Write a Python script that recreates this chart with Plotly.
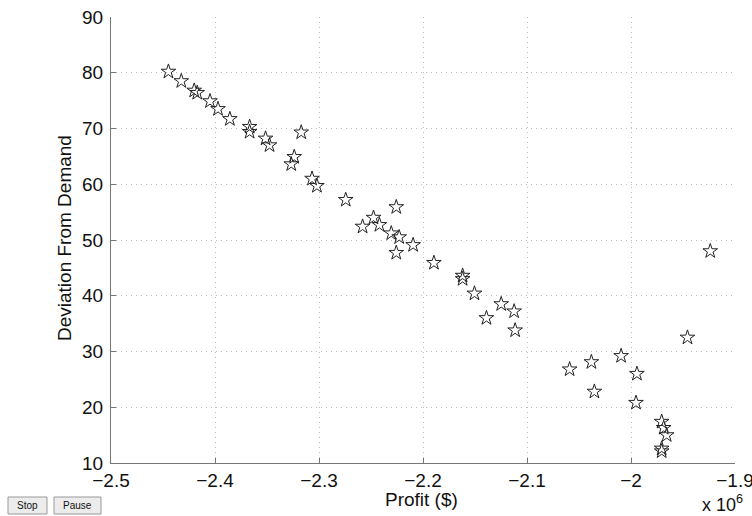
import plotly.graph_objects as go

# Profit in millions of dollars (axis shows x 10^6)
profit = [-2.4448, -2.4324, -2.4200, -2.4171, -2.4048, -2.3971, -2.3857, -2.3667,
          -2.3667, -2.3514, -2.3476, -2.3171, -2.3238, -2.3267, -2.3067, -2.3020,
          -2.2743, -2.2581, -2.2476, -2.2419, -2.2257, -2.2305, -2.2229, -2.2257,
          -2.2095, -2.1895, -2.1619, -2.1619, -2.1505, -2.1390, -2.1248, -2.1124,
          -2.1114, -2.0590, -2.0381, -2.0352, -2.0095, -1.9943, -1.9952, -1.9705,
          -1.9686, -1.9657, -1.9705, -1.9705, -1.9457, -1.9238]
deviation = [80.2, 78.5, 76.8, 76.4, 74.9, 73.5, 71.7, 70.3,
             69.4, 68.2, 67.0, 69.3, 64.9, 63.6, 61.0, 59.7,
             57.2, 52.4, 54.0, 52.7, 55.9, 51.2, 50.5, 47.7,
             49.1, 45.9, 43.6, 43.0, 40.4, 36.0, 38.5, 37.2,
             33.8, 26.8, 28.1, 22.8, 29.2, 26.0, 20.8, 17.4,
             16.3, 15.0, 12.6, 12.1, 32.5, 48.0]

x_ticks = [-2.5, -2.4, -2.3, -2.2, -2.1, -2.0, -1.9]
x_ticktext = ["\u22122.5", "\u22122.4", "\u22122.3", "\u22122.2", "\u22122.1", "\u22122", "\u22121.9"]
y_ticks = [10, 20, 30, 40, 50, 60, 70, 80, 90]

FONT = "Liberation Sans, Arial, Helvetica, sans-serif"

FW, FH = 752, 516
# plot area in window pixels
L, R, T, B = 111, 735, 17, 463
W, H = R - L, B - T


def px(xp):
    return (xp - L) / W


def py(yp):
    return (B - yp) / H


fig = go.Figure(go.Scatter(
    x=profit, y=deviation, mode="markers",
    marker=dict(symbol="star-open", size=11, color="#222",
                line=dict(width=1, color="#222")),
    showlegend=False,
))

axis_common = dict(
    showline=True, linecolor="#777", linewidth=1, mirror=False,
    ticks="inside", ticklen=5, tickcolor="#777",
    showgrid=True, gridcolor="#bdbdbd", griddash="1px,4px", gridwidth=1,
    zeroline=False, automargin=False, ticklabeloverflow="allow",
    tickfont=dict(family=FONT, size=19, color="#111"),
)

fig.update_layout(
    width=FW, height=FH,
    margin=dict(l=L, r=FW - R, t=T, b=FH - B),
    paper_bgcolor="white", plot_bgcolor="white",
    xaxis=dict(range=[-2.5, -1.9], tickvals=x_ticks, ticktext=x_ticktext,
               ticklabelstandoff=0, **axis_common),
    yaxis=dict(range=[10, 90], tickvals=y_ticks, ticklabelstandoff=3,
               **axis_common),
)


def note(text, x, y, size, angle=0, xanchor="center"):
    fig.add_annotation(text=text, xref="paper", yref="paper",
                       x=px(x), y=py(y), xanchor=xanchor, yanchor="middle",
                       textangle=angle, showarrow=False,
                       font=dict(family=FONT, size=size, color="#111"))


note("Profit ($)", 421, 499, 19)
note("Deviation From Demand", 64, 238, 19, angle=-90)
note("x 10<sup>6</sup>", 745, 503, 18, xanchor="right")

# Stop / Pause buttons
for label, x0, x1 in [("Stop", 8, 47), ("Pause", 54, 101)]:
    fig.add_shape(type="rect", xref="paper", yref="paper",
                  x0=px(x0), x1=px(x1), y0=py(514), y1=py(497),
                  line=dict(color="#999", width=1), fillcolor="#ececec", layer="above")
    note(label, (x0 + x1) / 2, 505.5, 10)

fig.write_html(
    "out.html",
    config={"displayModeBar": False},
    post_script="document.body.style.margin='0';document.body.style.overflow='hidden';",
)
